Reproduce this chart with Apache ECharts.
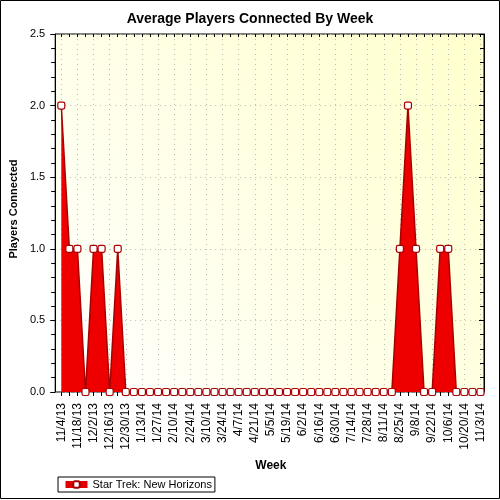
<!DOCTYPE html>
<html>
<head>
<meta charset="utf-8">
<script src="https://cdn.jsdelivr.net/npm/echarts@6/dist/echarts.min.js"></script>
<style>
  html, body { margin: 0; padding: 0; background: #fff; }
  #chart { width: 500px; height: 500px; }
</style>
</head>
<body>
<div id="chart"></div>
<script>
// weekly dates (x categories)
var weeks = [
  "11/4/13","11/11/13","11/18/13","11/25/13","12/2/13","12/9/13","12/16/13","12/23/13","12/30/13",
  "1/6/14","1/13/14","1/20/14","1/27/14","2/3/14","2/10/14","2/17/14","2/24/14",
  "3/3/14","3/10/14","3/17/14","3/24/14","3/31/14","4/7/14","4/14/14","4/21/14","4/28/14",
  "5/5/14","5/12/14","5/19/14","5/26/14","6/2/14","6/9/14","6/16/14","6/23/14","6/30/14",
  "7/7/14","7/14/14","7/21/14","7/28/14","8/4/14","8/11/14","8/18/14","8/25/14",
  "9/1/14","9/8/14","9/15/14","9/22/14","9/29/14","10/6/14","10/13/14","10/20/14","10/27/14","11/3/14"
];
// average players per week
var players = [
  2, 1, 1, 0, 1, 1, 0, 1, 0,
  0, 0, 0, 0, 0, 0, 0, 0,
  0, 0, 0, 0, 0, 0, 0, 0, 0,
  0, 0, 0, 0, 0, 0, 0, 0, 0,
  0, 0, 0, 0, 0, 0, 0, 1,
  2, 1, 0, 0, 1, 1, 0, 0, 0, 0
];
var yTicks = [0, 0.5, 1.0, 1.5, 2.0, 2.5];

var dotted = { color: "#bbbbbb", width: 1, type: [1, 4] };
var black = { color: "#000", width: 1 };

var chart = echarts.init(document.getElementById("chart"));
var option = {
  animation: false,
  textStyle: { fontFamily: "Liberation Sans, Arial, sans-serif" },
  title: {
    text: "Average Players Connected By Week",
    left: "center", top: 7,
    textStyle: { fontSize: 14, fontWeight: "bold", color: "#000" }
  },
  legend: {
    left: 58, top: 477,
    padding: [2, 3, 2, 4],
    borderColor: "#000", borderWidth: 1,
    itemWidth: 22, itemHeight: 8,
    textStyle: { fontSize: 11, color: "#000" },
    lineStyle: { width: 7, color: "#e00000" }
  },
  graphic: [{
    type: "rect", silent: true, z: 100,
    shape: { x: 0.5, y: 0.5, width: 499, height: 498 },
    style: { fill: null, stroke: "#000", lineWidth: 1 }
  }],
  grid: [
    { left: 55, right: 16, top: 34, bottom: 108, show: true,
      borderColor: "#000", borderWidth: 1,
      backgroundColor: new echarts.graphic.LinearGradient(0, 1, 1, 0, [
        { offset: 0, color: "#ffffff" },
        { offset: 1, color: "#ffffcc" }
      ]) },
    { left: 61.3, right: 19.5, top: 34, bottom: 108 }
  ],
  xAxis: [
    { gridIndex: 0, type: "value", min: 0, max: 1, show: false },
    { gridIndex: 1, type: "category", position: "bottom", data: weeks, boundaryGap: false,
      name: "Week", nameLocation: "middle", nameGap: 68,
      nameTextStyle: { fontSize: 12, fontWeight: "bold", color: "#000" },
      axisLine: { show: false },
      axisTick: { show: true, interval: 0, length: 4, lineStyle: black },
      axisLabel: { interval: 1, rotate: 90, fontSize: 12, color: "#000", margin: 11 },
      splitLine: { show: true, interval: 1, lineStyle: dotted } },
    { gridIndex: 1, type: "category", position: "top", data: weeks, boundaryGap: false,
      axisLine: { show: false },
      axisTick: { show: true, inside: true, interval: 0, length: 3, lineStyle: black },
      axisLabel: { show: false }, splitLine: { show: false } }
  ],
  yAxis: [
    { gridIndex: 0, type: "value", position: "left", min: 0, max: 2.5, interval: 0.5,
      name: "Players Connected", nameLocation: "middle", nameGap: 31,
      nameTextStyle: { fontSize: 11, fontWeight: "bold", color: "#000", padding: [0, 0, 0, 8] },
      axisLine: { show: true, lineStyle: black },
      axisTick: { show: true, length: 5, lineStyle: black },
      minorTick: { show: true, splitNumber: 5, length: 4, lineStyle: black },
      axisLabel: { fontSize: 11, color: "#000", margin: 10,
        formatter: function (v) { return yTicks.indexOf(v) >= 0 ? v.toFixed(1) : ""; } },
      splitLine: { show: true, lineStyle: dotted } },
    { gridIndex: 0, type: "value", position: "right", min: 0, max: 2.5, interval: 0.5,
      axisLine: { show: true, lineStyle: black },
      axisTick: { show: true, inside: true, length: 5, lineStyle: black },
      minorTick: { show: true, splitNumber: 5, length: 4, lineStyle: black },
      axisLabel: { show: false }, splitLine: { show: false } },
    { gridIndex: 1, type: "value", min: 0, max: 2.5, show: false }
  ],
  series: [{
    name: "Star Trek: New Horizons",
    type: "line",
    xAxisIndex: 1, yAxisIndex: 2,
    data: players,
    symbol: "roundRect", symbolSize: 7, showAllSymbol: true,
    lineStyle: { color: "#a80000", width: 1.5 },
    itemStyle: { color: "#ffffff", borderColor: "#a80000", borderWidth: 1.2 },
    areaStyle: { color: "#ee0000", opacity: 1 }
  }]
};
chart.setOption(option);
</script>
</body>
</html>
